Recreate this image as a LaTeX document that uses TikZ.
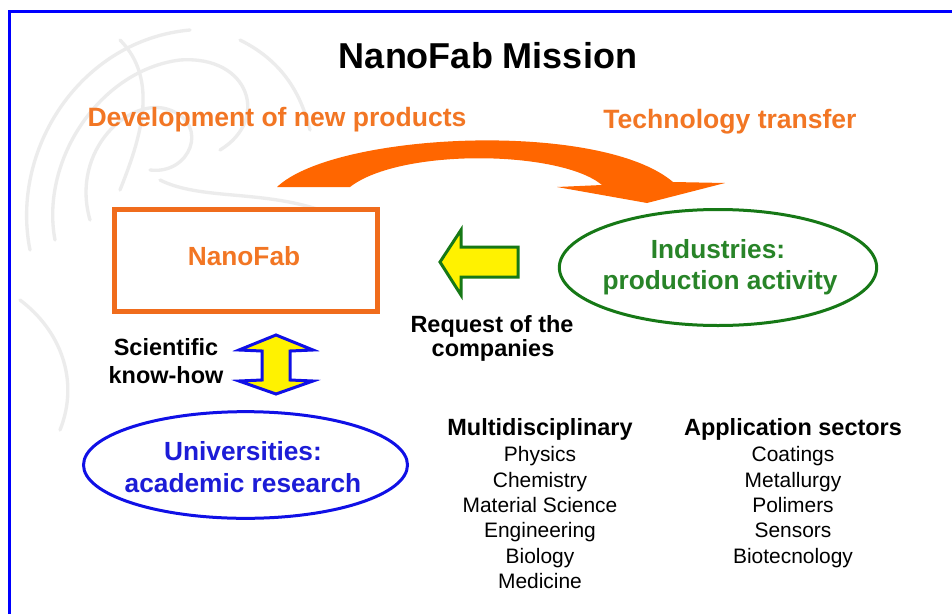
\documentclass[tikz,border=0pt]{standalone}
\usepackage{fontspec}
\setmainfont{Liberation Sans}
\usetikzlibrary{shapes.geometric}
\definecolor{frameblue}{RGB}{0,0,255}
\definecolor{orangetxt}{RGB}{242,118,36}
\definecolor{orangearrow}{RGB}{255,102,0}
\definecolor{orangebox}{RGB}{240,108,28}
\definecolor{greenline}{RGB}{22,120,22}
\definecolor{greentxt}{RGB}{40,132,40}
\definecolor{blueline}{RGB}{16,16,230}
\definecolor{bluetxt}{RGB}{28,28,215}
\definecolor{sketch}{RGB}{236,236,236}
\begin{document}
\begin{tikzpicture}[x=0.75pt,y=-0.75pt,
  txt/.style={inner sep=0pt, anchor=base},
  title/.style={txt, font=\fontsize{27}{32}\selectfont\bfseries},
  headline/.style={txt, font=\fontsize{19.9}{24}\selectfont\bfseries, text=orangetxt},
  bigname/.style={txt, font=\fontsize{19.7}{24}\selectfont\bfseries},
  smallbold/.style={txt, font=\fontsize{17.6}{21}\selectfont\bfseries},
  listhead/.style={txt, font=\fontsize{17.6}{21}\selectfont\bfseries},
  listitem/.style={txt, font=\fontsize{15.7}{19}\selectfont},
  fatarrow/.style={fill=yellow, line width=2.25pt, line join=miter},
]
% canvas
\useasboundingbox (0,0) rectangle (952,614);
\fill[white] (0,0) rectangle (952,614);

% faint sketch in the upper left corner
\begin{scope}[draw=sketch, line width=2.5pt, line cap=round]
  \draw (30,250) .. controls (10,150) and (80,40) .. (190,30);
  \draw (55,240) .. controls (40,160) and (100,70) .. (180,60) .. controls (250,55) and (270,120) .. (220,150);
  \draw (90,220) .. controls (70,150) and (130,95) .. (170,110) .. controls (210,125) and (190,175) .. (150,170);
  \draw (120,40) .. controls (160,80) and (140,140) .. (120,190);
  \draw (240,40) .. controls (280,60) and (300,90) .. (310,130);
  \draw (20,300) .. controls (60,330) and (80,380) .. (60,430);
  \draw (160,180) .. controls (200,200) and (260,190) .. (320,210);
\end{scope}

% frame lines
\draw[frameblue, line width=2.25pt] (9.5,614) -- (9.5,11.5) -- (952,11.5);

% title and headings
\node[title] (title) at (488,68) {NanoFab Mission};
\node[headline] (dev) at (277,126) {Development of new products};
\node[headline] (tech) at (730,128) {Technology transfer};

% curved transfer arrow
\fill[orangearrow] (277,187) .. controls (335,132) and (600,120) .. (673,182)
  -- (725,183) -- (647,203) -- (557,187) -- (602,185)
  .. controls (560,150) and (400,148) .. (350,187) -- cycle;

% NanoFab box
\node[draw=orangebox, line width=3.75pt, minimum width=197.25pt, minimum height=76.5pt,
  inner sep=0pt] (nanofab) at (246,260.5) {};
\node[bigname, text=orangetxt] (nanofabtxt) at (244,265) {NanoFab};

% industries ellipse
\node[ellipse, draw=greenline, line width=2.25pt, minimum width=238pt, minimum height=87pt,
  inner sep=0pt] (industries) at (718,267.5) {};
\node[bigname, text=greentxt] (ind1) at (718,258) {Industries:};
\node[bigname, text=greentxt] (ind2) at (720,289) {production activity};

% request arrow from industries to NanoFab
\draw[fatarrow, draw=greenline] (440,262) -- (461,230) -- (461,247) -- (518,247)
  -- (518,277) -- (461,277) -- (461,295) -- cycle;
\node[smallbold] (req1) at (492,332) {Request of the};
\node[smallbold] (req2) at (493,356) {companies};

% know-how double arrow
\draw[fatarrow, draw=blueline] (276,335) -- (313,350) -- (290,351) -- (290,380)
  -- (313,381) -- (276,394) -- (239,381) -- (262,380) -- (262,351) -- (239,350) -- cycle;
\node[smallbold] (sci1) at (166,355) {Scientific};
\node[smallbold] (sci2) at (166,383) {know-how};

% universities ellipse
\node[ellipse, draw=blueline, line width=2.25pt, minimum width=243pt, minimum height=80pt,
  inner sep=0pt] (univ) at (245.5,465) {};
\node[bigname, text=bluetxt] (uni1) at (243,460) {Universities:};
\node[bigname, text=bluetxt] (uni2) at (243,492) {academic research};

% disciplines
\node[listhead] (multi) at (540,435) {Multidisciplinary};
\node[listitem] (m1) at (540,461) {Physics};
\node[listitem] (m2) at (540,487) {Chemistry};
\node[listitem] (m3) at (540,512) {Material Science};
\node[listitem] (m4) at (540,537) {Engineering};
\node[listitem] (m5) at (540,563) {Biology};
\node[listitem] (m6) at (540,588) {Medicine};

% application sectors
\node[listhead] (appl) at (793,435) {Application sectors};
\node[listitem] (a1) at (793,461) {Coatings};
\node[listitem] (a2) at (793,487) {Metallurgy};
\node[listitem] (a3) at (793,512) {Polimers};
\node[listitem] (a4) at (793,537) {Sensors};
\node[listitem] (a5) at (793,563) {Biotecnology};
\end{tikzpicture}
\end{document}
